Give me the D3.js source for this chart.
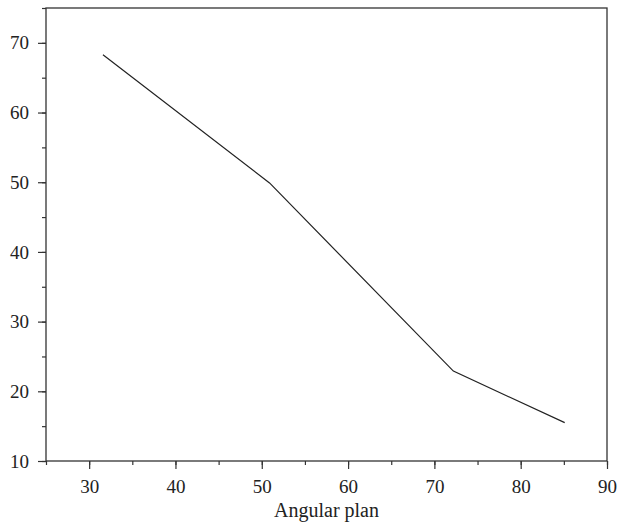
<!DOCTYPE html>
<html>
<head>
<meta charset="utf-8">
<script src="https://cdn.jsdelivr.net/npm/d3@7"></script>
<style>
  body { margin: 0; background: #fff; }
  svg text { font-family: "Liberation Serif", "DejaVu Serif", serif; fill: #222; }
</style>
</head>
<body>
<div id="chart"></div>
<script>
const xValues = [31.6, 50.9, 72.2, 85.1];
const yValues = [68.3, 49.9, 22.9, 15.5];
const xTicks = [30, 40, 50, 60, 70, 80, 90];
const yTicks = [10, 20, 30, 40, 50, 60, 70];
const xLabel = "Angular plan";

(() => {
  const width = 618;
  const height = 526;
  const margin = { top: 8, right: 11, bottom: 65, left: 46 };
  const w = width - margin.left - margin.right;
  const h = height - margin.top - margin.bottom;

  const svg = d3
    .select("#chart")
    .append("svg")
    .attr("width", width)
    .attr("height", height);

  const g = svg
    .append("g")
    .attr("transform", `translate(${margin.left}, ${margin.top})`);

  const xScale = d3.scaleLinear().domain([25, 90]).range([0, w]);
  const yScale = d3.scaleLinear().domain([10, 75]).range([h, 0]);

  // minor ticks
  g.append("g")
    .attr("transform", `translate(0, ${h})`)
    .call(d3.axisBottom(xScale).tickValues(d3.range(25, 91, 5)).tickSize(4).tickFormat(""))
    .call((a) => a.select(".domain").remove())
    .selectAll("line")
    .attr("stroke", "#333")
    .attr("stroke-width", 1.2);

  g.append("g")
    .call(d3.axisLeft(yScale).tickValues(d3.range(10, 76, 5)).tickSize(4).tickFormat(""))
    .call((a) => a.select(".domain").remove())
    .selectAll("line")
    .attr("stroke", "#333")
    .attr("stroke-width", 1.2);

  // major ticks
  const xAxis = g
    .append("g")
    .attr("transform", `translate(0, ${h})`)
    .call(d3.axisBottom(xScale).tickValues(xTicks).tickSize(8).tickPadding(11));
  xAxis.select(".domain").remove();
  xAxis.selectAll("line").attr("stroke", "#333").attr("stroke-width", 1.2);
  xAxis.selectAll("text").attr("font-size", "19px").attr("fill", "#222");

  const yAxis = g
    .append("g")
    .call(d3.axisLeft(yScale).tickValues(yTicks).tickSize(8).tickPadding(9));
  yAxis.select(".domain").remove();
  yAxis.selectAll("line").attr("stroke", "#333").attr("stroke-width", 1.2);
  yAxis.selectAll("text").attr("font-size", "19px").attr("fill", "#222");

  // frame
  g.append("rect")
    .attr("width", w)
    .attr("height", h)
    .attr("fill", "none")
    .attr("stroke", "#333")
    .attr("stroke-width", 1.3);

  const data = xValues.map((x, i) => ({ x, y: yValues[i] }));
  const line = d3.line().x((d) => xScale(d.x)).y((d) => yScale(d.y));

  g.append("path")
    .datum(data)
    .attr("d", line)
    .attr("fill", "none")
    .attr("stroke", "#222")
    .attr("stroke-width", 1.2);

  g.append("text")
    .attr("x", w / 2)
    .attr("y", h + 56)
    .attr("text-anchor", "middle")
    .attr("font-size", "20px")
    .text(xLabel);
})();
</script>
</body>
</html>
